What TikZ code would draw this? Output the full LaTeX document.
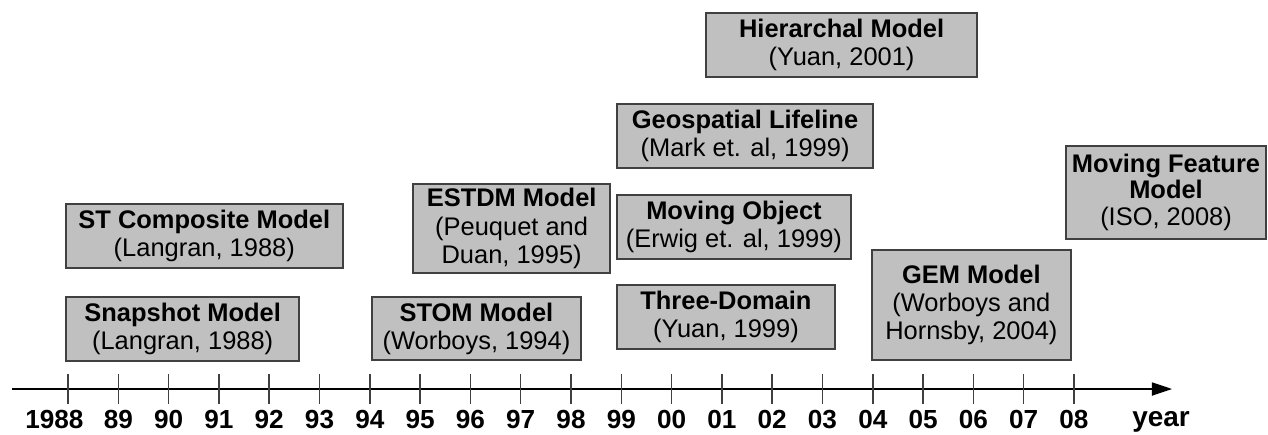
\documentclass[tikz,border=0pt]{standalone}
\usepackage{fontspec}
\setmainfont{Liberation Sans}
\usepackage{xcolor}
\usetikzlibrary{arrows.meta}

\definecolor{boxfill}{RGB}{192,192,192}
\definecolor{boxline}{RGB}{64,64,64}

\begin{document}
\begin{tikzpicture}[
    modelbox/.style={rectangle, draw=boxline, fill=boxfill, line width=0.9pt, inner sep=0pt, align=center, font=\fontsize{14.4}{16}\selectfont},
    yearlabel/.style={anchor=base, font=\bfseries\fontsize{14.8}{16}\selectfont}
  ]
  \useasboundingbox (-1.352,-0.895) rectangle (23.857,7.734);
  % time axis
  \coordinate (axisstart) at (-1.11,0);
  \coordinate (axisend) at (21.95,0);
  \draw[line width=0.9pt, -{Triangle[length=0.4cm,width=0.26cm]}] (axisstart) -- (axisend);
  % ticks and year labels
  \foreach \x in {0,...,20}
    \draw[line width=0.9pt, boxline] (\x,-0.3) -- (\x,0.3);
  \node[yearlabel] (year0) at (-0.27,-0.78) {1988};
  \foreach \x/\yr in {1/89,2/90,3/91,4/92,5/93,6/94,7/95,8/96,9/97,10/98,
                      11/99,12/00,13/01,14/02,15/03,16/04,17/05,18/06,19/07,20/08}
    \node[yearlabel] (year\x) at (\x,-0.78) {\yr};
  \node[yearlabel, font=\bfseries\fontsize{15.8}{18}\selectfont] (yearlbl) at (21.73,-0.74) {year};
  % models
  \node[modelbox, minimum width=4.63cm, minimum height=1.27cm] (snapshot) at (2.28,1.19) {\textbf{Snapshot Model}\\(Langran, 1988)};
  \node[modelbox, minimum width=5.51cm, minimum height=1.27cm] (stcomposite) at (2.71,3.04) {\textbf{ST Composite Model}\\(Langran, 1988)};
  \node[modelbox, minimum width=4.16cm, minimum height=1.25cm] (stom) at (8.12,1.20) {\textbf{STOM Model}\\(Worboys, 1994)};
  \node[modelbox, minimum width=3.92cm, minimum height=1.77cm] (estdm) at (8.82,3.19) {\textbf{ESTDM Model}\\(Peuquet and\\Duan, 1995)};
  \node[modelbox, minimum width=4.33cm, minimum height=1.27cm] (threedomain) at (13.08,1.43) {\textbf{Three-Domain}\\(Yuan, 1999)};
  \node[modelbox, minimum width=4.65cm, minimum height=1.27cm] (movingobject) at (13.24,3.22) {\textbf{Moving Object}\\(Erwig et. al, 1999)};
  \node[modelbox, minimum width=5.09cm, minimum height=1.27cm] (lifeline) at (13.46,5.03) {\textbf{Geospatial Lifeline}\\(Mark et. al, 1999)};
  \node[modelbox, minimum width=5.39cm, minimum height=1.27cm] (hierarchal) at (15.38,6.84) {\textbf{Hierarchal Model}\\(Yuan, 2001)};
  \node[modelbox, minimum width=3.96cm, minimum height=2.19cm] (gem) at (17.96,1.67) {\textbf{GEM Model}\\(Worboys and\\Hornsby, 2004)};
  \node[modelbox, minimum width=3.98cm, minimum height=1.85cm, font=\fontsize{14.4}{15}\selectfont] (movingfeature) at (21.83,3.91) {\textbf{Moving Feature}\\\textbf{Model}\\(ISO, 2008)};
\end{tikzpicture}
\end{document}
